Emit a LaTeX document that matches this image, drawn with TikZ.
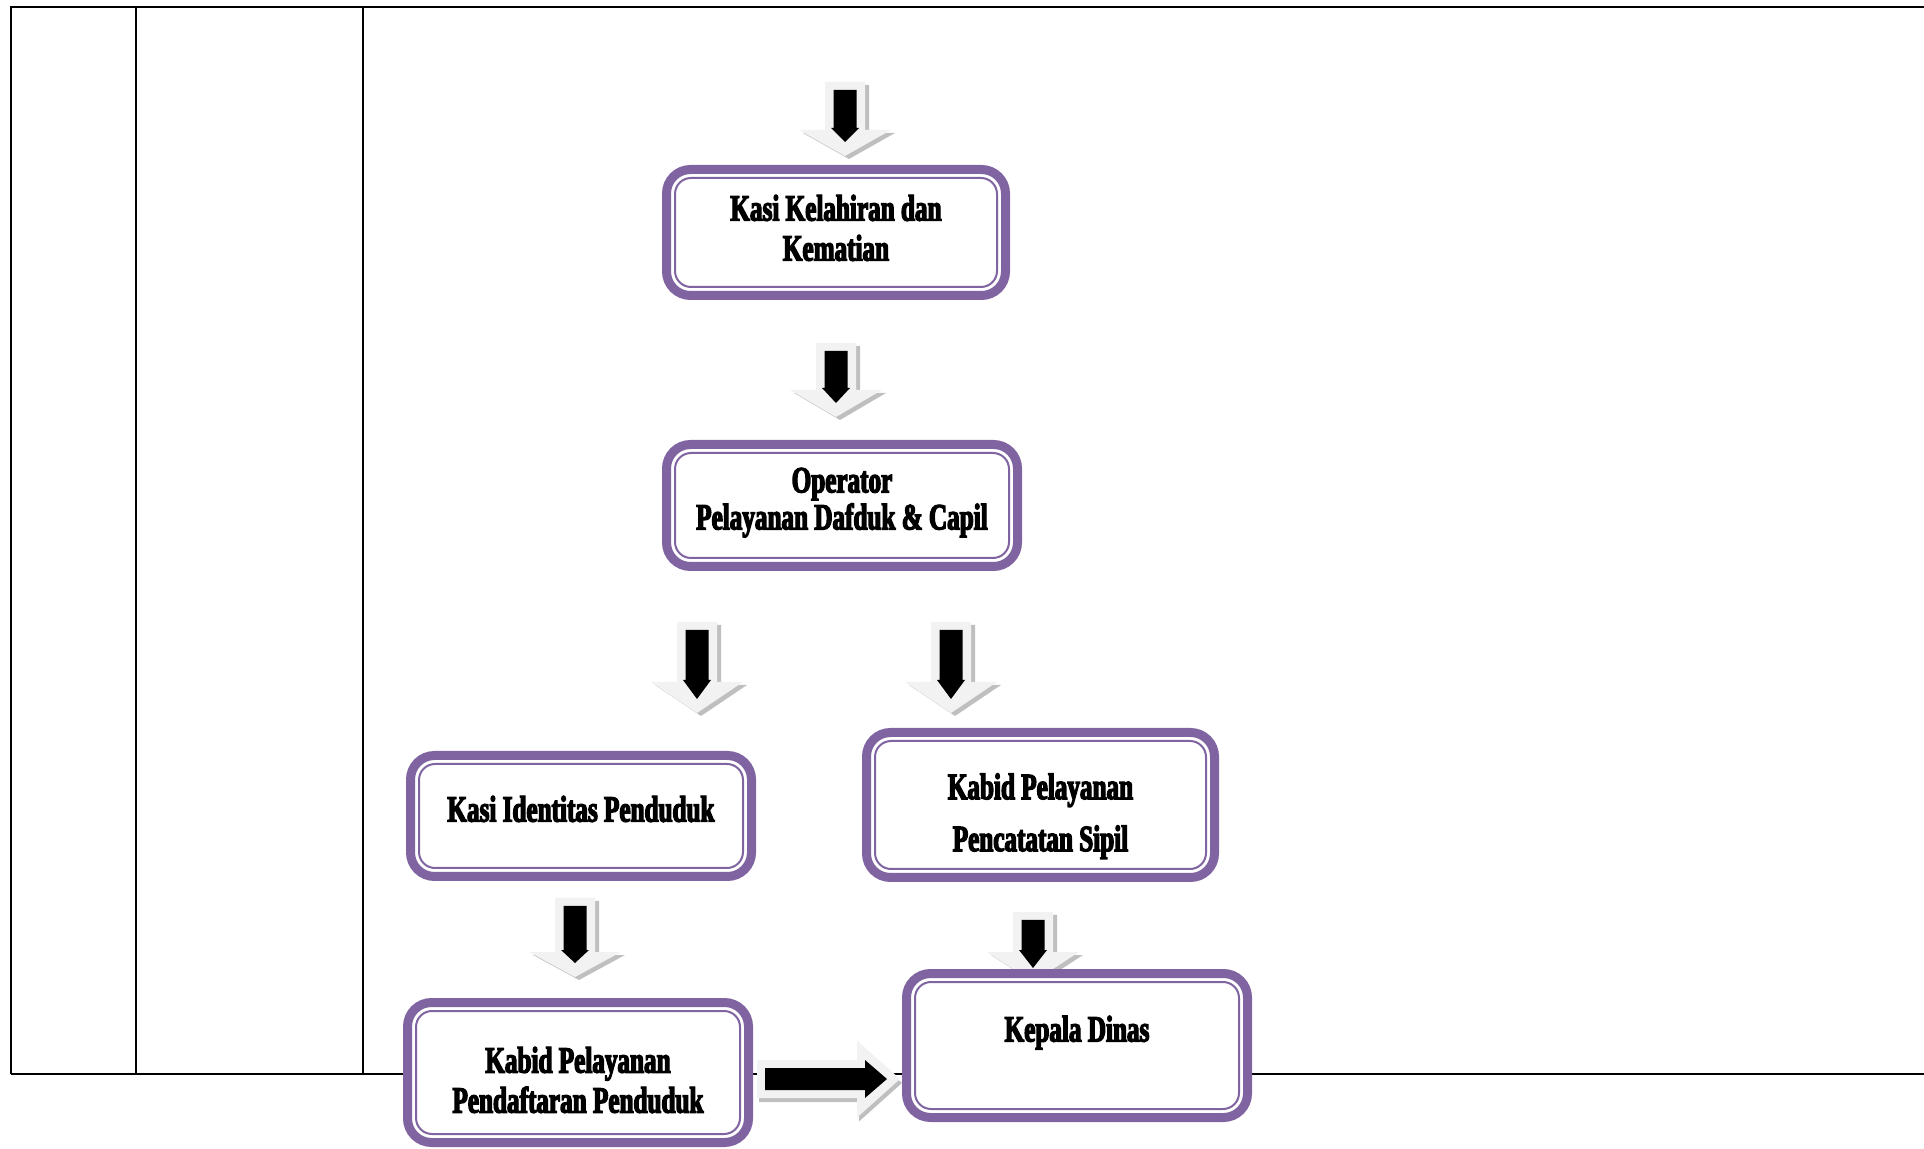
\documentclass[tikz,border=0pt]{standalone}
\usepackage{fontspec}
\newfontfamily\boxfont[FakeStretch=0.68,BoldFeatures={FakeBold=3.5}]{Liberation Serif}
\definecolor{boxpurple}{HTML}{8064A2}
\definecolor{arrlight}{HTML}{F2F2F2}
\definecolor{arrshadow}{HTML}{BFBFBF}

\begin{document}
\begin{tikzpicture}[x=0.5pt,y=-0.5pt]
    \tikzstyle{box}=[draw=boxpurple, line width=4.5pt, fill=white, rounded corners=12pt, outer sep=0pt, inner sep=0pt, align=center, font=\boxfont\bfseries\fontsize{18.5pt}{20pt}\selectfont];
    \tikzstyle{inframe}=[draw=boxpurple, line width=1pt, rounded corners=8pt];
    \tikzstyle{grid}=[line width=0.8pt];
    \tikzset{
      pics/blockdown/.style 2 args={code={
        \fill[arrshadow, shift={(4,3)}] (-20,0) -- (20,0) -- (20,#1) -- (46,#1) -- (0,#1+#2) -- (-46,#1) -- (-20,#1) -- cycle;
        \fill[arrlight] (-20,0) -- (20,0) -- (20,#1) -- (46,#1) -- (0,#1+#2) -- (-46,#1) -- (-20,#1) -- cycle;
        \fill[black] (-11.5,8) -- (11.5,8) -- (11.5,#1-2) -- (14,#1-2) -- (0,#1+#2-14) -- (-14,#1-2) -- (-11.5,#1-2) -- cycle;
      }},
      pics/blockright/.style={code={
        \fill[arrshadow, shift={(2,4)}] (0,-19) -- (100,-19) -- (100,-38.5) -- (143,0) -- (100,38.5) -- (100,19) -- (0,19) -- cycle;
        \fill[arrlight] (0,-19) -- (100,-19) -- (100,-38.5) -- (143,0) -- (100,38.5) -- (100,19) -- (0,19) -- cycle;
        \fill[black] (8,-11) -- (108,-11) -- (108,-19) -- (130,0) -- (108,19) -- (108,11) -- (8,11) -- cycle;
      }}
    }

    \useasboundingbox (0,0) rectangle (1924,1149);

    % table frame
    \draw[grid] (11,1074) -- (11,7) -- (1924,7);
    \draw[grid] (136,7) -- (136,1074);
    \draw[grid] (363,7) -- (363,1074);
    \draw[grid] (11,1074) -- (1924,1074);

    % block arrows
    \pic at (845,82) {blockdown={48}{26}};
    \pic at (836,343) {blockdown={47}{27}};
    \pic at (697,622) {blockdown={60}{31}};
    \pic at (951,622) {blockdown={60}{31}};
    \pic at (575,898) {blockdown={54}{25}};
    \pic at (1033,912) {blockdown={40}{30}};
    \pic at (757,1079) {blockright};

    \node[box, minimum width=169.5pt, minimum height=63pt, text height=32.1pt, text depth=4pt] at (836,232.5) (kelahiran) {Kasi Kelahiran dan\\Kematian};
    \node[box, minimum width=175.5pt, minimum height=61pt, text height=27.9pt, text depth=4pt] at (842,505.5) (operator) {Operator\\[-1.5pt]Pelayanan Dafduk \& Capil};
    \node[box, minimum width=170.5pt, minimum height=60.5pt, text height=12pt, text depth=6.4pt] at (581,816) (identitas) {Kasi Identitas Penduduk};
    \node[box, minimum width=174pt, minimum height=72.5pt, text height=50.1pt, text depth=4pt] at (1040.5,805) (pencatatan) {Kabid Pelayanan\\[6pt]Pencatatan Sipil};
    \node[box, minimum width=170.5pt, minimum height=70pt, text height=44.1pt, text depth=4pt] at (578,1072.5) (pendaftaran) {Kabid Pelayanan\\Pendaftaran Penduduk};
    \node[box, minimum width=170.5pt, minimum height=72pt, text height=12pt, text depth=16pt] at (1077,1045.5) (kadis) {Kepala Dinas};

    \foreach \n in {kelahiran,operator,identitas,pencatatan,pendaftaran,kadis}
      \draw[inframe] ([shift={(4.25pt,-4.25pt)}]\n.north west) rectangle ([shift={(-4.25pt,4.25pt)}]\n.south east);
\end{tikzpicture}
\end{document}
